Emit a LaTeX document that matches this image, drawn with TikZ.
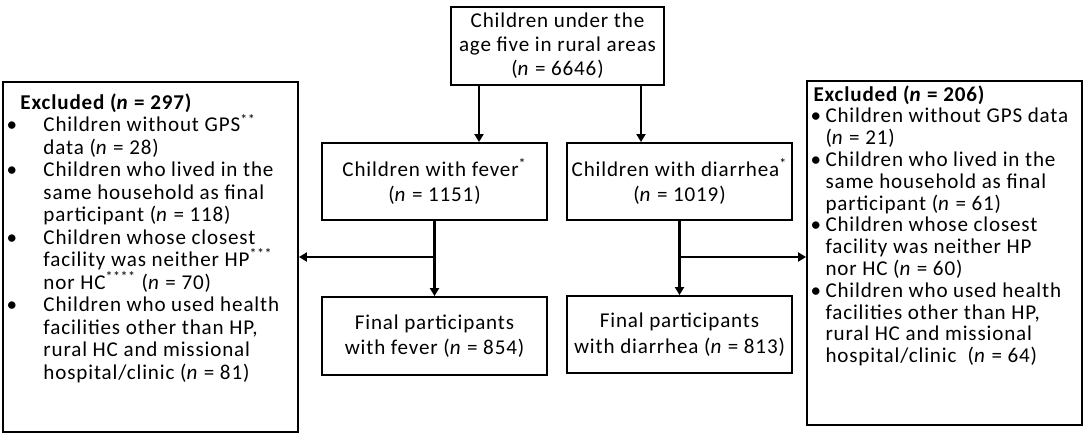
\documentclass[tikz,border=0pt]{standalone}
\usepackage{fontspec}
\setmainfont{Carlito}[LetterSpace=4]
\usetikzlibrary{
	arrows.meta,
	calc,
	positioning
}
\tikzset{every path/.append style={line width=0.5pt}}
\tikzset{
	box/.style={draw,line width=1.1pt,align=center,inner sep=0pt,minimum width=4.5cm,minimum height=1.54cm,font=\fontsize{12}{14.6}\selectfont},
	frame/.style={draw,line width=1.1pt,inner sep=0pt},
	list/.style={align=left,inner sep=0pt,anchor=north west,font=\fontsize{12}{12.8}\selectfont},
	flow/.style={line width=1.6pt,-{Triangle[length=1.6mm,width=1.8mm]}}
}
\newcommand{\nn}{\textit{n}}
\newcommand{\bulL}{\makebox[0.74cm][l]{\textbullet}}
\newcommand{\indL}{\hspace*{0.74cm}}
\newcommand{\bulR}{\makebox[0.3cm][l]{\textbullet}}
\newcommand{\indR}{\hspace*{0.3cm}}

\begin{document}
\begin{tikzpicture}[x=0.02cm,y=-0.02cm]
	\useasboundingbox (0,0) rectangle (1085,434);

	% flow boxes
	\node (top) [box,minimum width=4.26cm,minimum height=1.56cm,font=\fontsize{12}{13.6}\selectfont] at (557.5,46)
		{Children under the\\age five in rural areas\\(\nn{} = 6646)};
	\node (fever) [box] at (434.5,181.5) {Children with fever\textsuperscript{*}\\(\nn{} = 1151)};
	\node (diarrhea) [box] at (679.5,181.5) {Children with diarrhea\textsuperscript{*}\\(\nn{} = 1019)};
	\node (finalfever) [box,minimum height=1.56cm] at (434.5,336) {Final participants\\with fever (\nn{} = 854)};
	\node (finaldiarrhea) [box] at (679.5,334.5) {Final participants\\with diarrhea (\nn{} = 813)};

	% exclusion boxes
	\node (exclL) [frame,minimum width=5.9cm,minimum height=7cm] at (150.5,257) {};
	\node (exclR) [frame,minimum width=5.5cm,minimum height=6.88cm] at (944.5,253) {};

	\node (exclLtxt) [list] at ($(exclL.north west)+(4,12)$) {%
		\hspace*{0.28cm}\textbf{Excluded (\nn{} = 297)}\\
		\bulL Children without GPS\textsuperscript{**}\\
		\indL data (\nn{} = 28)\\
		\bulL Children who lived in the\\
		\indL same household as final\\
		\indL participant (\nn{} = 118)\\
		\bulL Children whose closest\\
		\indL facility was neither HP\textsuperscript{***}\\
		\indL nor HC\textsuperscript{****} (\nn{} = 70)\\
		\bulL Children who used health\\
		\indL facilities other than HP,\\
		\indL rural HC and missional\\
		\indL hospital/clinic (\nn{} = 81)};

	\node (exclRtxt) [list,font=\fontsize{12}{12.4}\selectfont] at ($(exclR.north west)+(4,5)$) {%
		\hspace*{0.06cm}\textbf{Excluded (\nn{} = 206)}\\
		\bulR Children without GPS data\\
		\indR (\nn{} = 21)\\
		\bulR Children who lived in the\\
		\indR same household as final\\
		\indR participant (\nn{} = 61)\\
		\bulR Children whose closest\\
		\indR facility was neither HP\\
		\indR nor HC (\nn{} = 60)\\
		\bulR Children who used health\\
		\indR facilities other than HP,\\
		\indR rural HC and missional\\
		\indR hospital/clinic~~(\nn{} = 64)};

	% connectors
	\draw[flow] ([xshift=-1.57cm]top.south) -- ([xshift=-1.57cm]top.south |- fever.north);
	\draw[flow] ([xshift=1.67cm]top.south) -- ([xshift=1.67cm]top.south |- diarrhea.north);
	\draw[flow] (fever) -- (finalfever);
	\draw[flow] (diarrhea) -- (finaldiarrhea);
	\draw[flow,line width=1.2pt] (fever.south |- exclL.east) -- (exclL.east);
	\draw[flow,line width=1.2pt] (diarrhea.south |- exclL.east) -- (exclR.west |- exclL.east);
\end{tikzpicture}
\end{document}
